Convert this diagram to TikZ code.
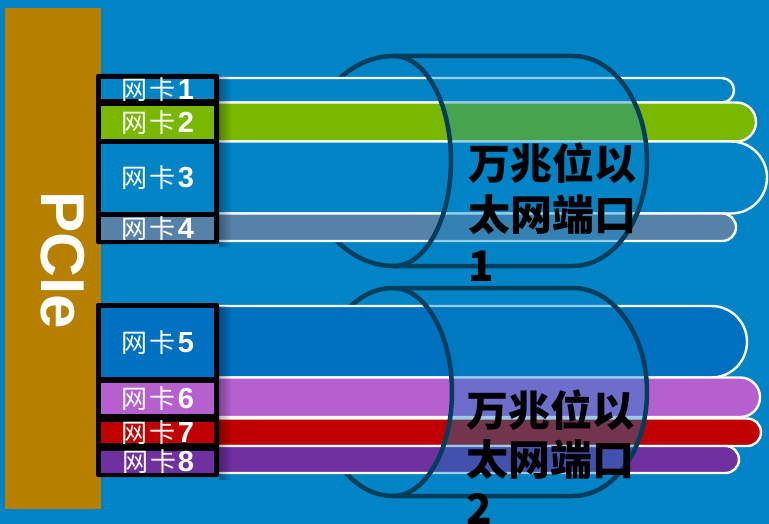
\documentclass[tikz,border=0pt]{standalone}
\usepackage{fontspec}
\setmainfont{Liberation Sans}
\newfontfamily\cjk{Noto Sans CJK SC}
\definecolor{bgblue}{RGB}{0,132,197}
\definecolor{pcigold}{RGB}{184,128,0}
\definecolor{nicgreen}{RGB}{120,184,0}
\definecolor{nicgray}{RGB}{86,130,170}
\definecolor{nicblue}{RGB}{0,112,192}
\definecolor{nicpink}{RGB}{182,96,208}
\definecolor{nicred}{RGB}{192,0,0}
\definecolor{nicpurple}{RGB}{112,48,160}
\definecolor{cyldark}{RGB}{0,62,92}
\newcommand\niclab[2]{{\cjk\fontsize{26}{26}\selectfont 网\kern2pt 卡}#1{\fontsize{29}{29}\selectfont\bfseries #2}}
\begin{document}
\begin{tikzpicture}[x=1pt,y=-1pt,
  cablest/.style={draw=white,line width=2.4pt},
  cardbox/.style={rectangle,draw=none,inner sep=0pt,minimum width=113pt},
  labst/.style={text=white,inner sep=0pt},
  cylline/.style={draw=cyldark,line width=4.5pt,line join=round,line cap=round},
  porttext/.style={text=black,inner sep=0pt,align=left,anchor=north west}]
\useasboundingbox (0,0) rectangle (769,524);
\fill[bgblue] (0,0) rectangle (769,524);
% PCIe bar
\node[rectangle,fill=pcigold,inner sep=0pt,minimum width=96pt,minimum height=500pt] (pcie) at (53,258.5) {};
\node[rotate=-90,text=white,inner sep=0pt,font=\fontsize{62}{62}\selectfont\bfseries] (pcietext) at (62.5,260.5) {PCIe};
% back arcs of cylinders
\draw[cylline] (394,56) arc[start angle=270,end angle=90,x radius=88,y radius=105];
\draw[cylline] (393,288) arc[start angle=270,end angle=90,x radius=75,y radius=104];
% cables
\filldraw[cablest,fill=bgblue,rounded corners=12.2pt] (100,78) rectangle (734,102.5);
\filldraw[cablest,fill=nicgreen,rounded corners=19.5pt] (100,102.5) rectangle (756,141.5);
\filldraw[cablest,fill=bgblue,rounded corners=36pt] (100,141.5) rectangle (767,213.5);
\filldraw[cablest,fill=nicgray,rounded corners=13.7pt] (100,213.5) rectangle (736,241);
\filldraw[cablest,fill=nicblue,rounded corners=35.7pt] (100,306) rectangle (747,377.5);
\filldraw[cablest,fill=nicpink,rounded corners=19.7pt] (100,377.5) rectangle (760,417);
\filldraw[cablest,fill=nicred,rounded corners=13.7pt] (100,418.5) rectangle (761,446);
\filldraw[cablest,fill=nicpurple,rounded corners=13.5pt] (100,446) rectangle (739,473);
% frame shadows
\foreach \k in {2,4,...,12}{
  \fill[black,opacity=0.05] (219,77) rectangle (219+\k,247);
  \fill[black,opacity=0.05] (219,306) rectangle (219+\k,480);
}
% frames
\fill[black,rounded corners=2pt] (96,74) rectangle (219,244);
\fill[black,rounded corners=2pt] (96,303) rectangle (219,477);
% cards
\node[cardbox,fill=bgblue,minimum height=20pt] (c1) at (157.5,89.5) {};
\node[cardbox,fill=nicgreen,minimum height=33pt] (c2) at (157.5,122.5) {};
\node[cardbox,fill=bgblue,minimum height=68pt] (c3) at (157.5,178) {};
\node[cardbox,fill=nicgray,minimum height=22pt] (c4) at (157.5,228.5) {};
\node[cardbox,fill=nicblue,minimum height=69pt] (c5) at (157.5,342.5) {};
\node[cardbox,fill=nicpink,minimum height=31pt] (c6) at (157.5,398.5) {};
\node[cardbox,fill=nicred,minimum height=21pt] (c7) at (157.5,432.5) {};
\node[cardbox,fill=nicpurple,minimum height=22pt] (c8) at (157.5,461.5) {};
\node[labst] (l1) at (c1) {\niclab{\ }{1}};
\node[labst] (l2) at (c2) {\niclab{\ }{2}};
\node[labst] (l3) at (c3) {\niclab{\ }{3}};
\node[labst] (l4) at (c4) {\niclab{\ }{4}};
\node[labst] (l5) at (c5) {\niclab{\ }{5}};
\node[labst] (l6) at (c6) {\niclab{\ }{6}};
\node[labst] (l7) at (c7) {\niclab{\ }{7}};
\node[labst] (l8) at ([xshift=1pt]c8) {\niclab{\kern1pt}{8}};
% cylinder 1 body
\fill[bgblue,fill opacity=0.4] (394,56) -- (573,56) arc[start angle=-90,end angle=90,x radius=74,y radius=105] -- (394,266) arc[start angle=90,end angle=-90,x radius=57,y radius=105] -- cycle;
\draw[cylline] (394,56) -- (573,56) arc[start angle=-90,end angle=90,x radius=74,y radius=105] -- (394,266);
\draw[cylline] (394,266) arc[start angle=90,end angle=-90,x radius=57,y radius=105];
% cylinder 2 body
\fill[bgblue,fill opacity=0.4] (393,288) -- (573,288) arc[start angle=-90,end angle=90,x radius=74,y radius=104] -- (393,496) arc[start angle=90,end angle=-90,x radius=59,y radius=104] -- cycle;
\draw[cylline] (393,288) -- (573,288) arc[start angle=-90,end angle=90,x radius=74,y radius=104] -- (393,496);
\draw[cylline] (393,496) arc[start angle=90,end angle=-90,x radius=59,y radius=104];
% port texts
\node[porttext,font=\cjk\bfseries\fontsize{42}{51}\selectfont] (p1) at (468,143) {万兆位以\\太网端口\\1};
\node[porttext,font=\cjk\bfseries\fontsize{42}{49}\selectfont] (p2) at (466,390) {万兆位以\\太网端口\\2};
\end{tikzpicture}
\end{document}
